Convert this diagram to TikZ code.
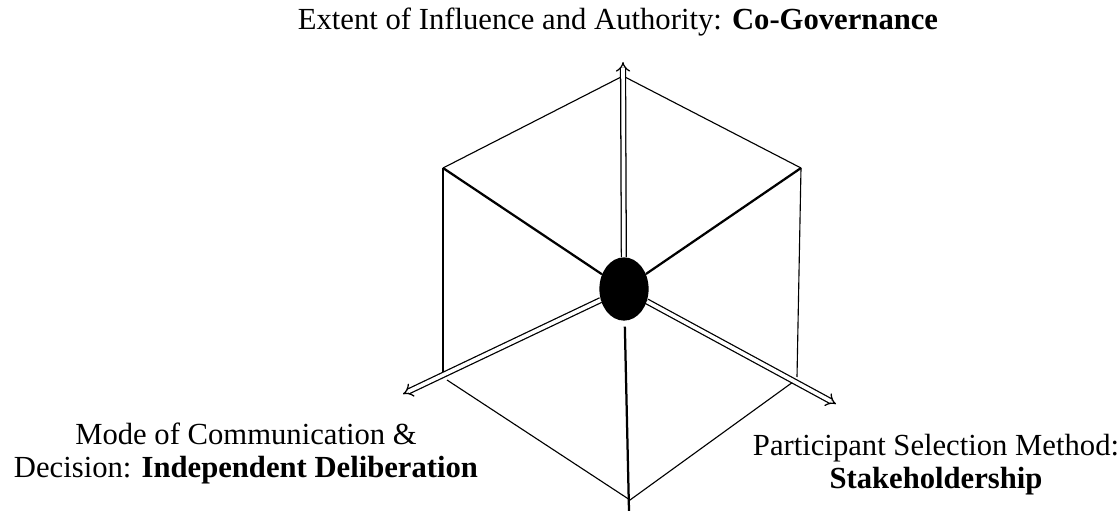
\documentclass[tikz,border=0pt]{standalone}
\usepackage{fontspec}
\setmainfont{Liberation Serif}
\usetikzlibrary{arrows.meta}
\usetikzlibrary{shapes.geometric}
\usetikzlibrary{positioning}
\tikzset{edge/.style = {line width = 0.8pt}}
\tikzset{spoke/.style = {line width = 1.6pt}}
\tikzset{dimarrow/.style = {double, line width = 0.9pt, double distance = 2.6pt,
                            -{Implies[length = 5pt, width = 10pt]}}}
\tikzset{hub/.style = {ellipse, fill, inner sep = 0,
                       minimum width = 35pt, minimum height = 45pt}}
\tikzset{dimlabel/.style = {font = \fontsize{21.8}{23.5}\selectfont, align = center,
                            inner sep = 0}}

\begin{document}
\begin{tikzpicture}[x = 0.025cm, y = -0.025cm]
    \useasboundingbox (0, 0) rectangle (1120, 511);

    \coordinate (t) at (623, 76);
    \coordinate (ul) at (443, 168);
    \coordinate (ur) at (801, 168);
    \coordinate (ulb) at (443, 378);
    \coordinate (urb) at (797, 377);
    \coordinate (bl) at (447, 380);
    \coordinate (b) at (630, 500);
    \coordinate (br) at (793, 382);
    \coordinate (foot) at (629, 511);
    \coordinate (infl) at (623, 62);
    \coordinate (comm) at (403, 394);
    \coordinate (sel) at (836, 404);

    \draw [edge] (ul) -- (t) -- (ur);
    \draw [edge] (ul) -- (ulb);
    \draw [edge] (ur) -- (urb);
    \draw [edge] (bl) -- (b) -- (br);

    \node [hub] (center) at (624, 289) {};

    \draw [dimarrow] (center) -- (infl);
    \draw [dimarrow] (center) -- (comm);
    \draw [dimarrow] (center) -- (sel);

    \draw [spoke] (ul) -- (center);
    \draw [spoke] (ur) -- (center);
    \draw [spoke, shorten < = 4pt] (center) -- (foot);

    \node [dimlabel] (infllabel) at (618, 22)
      {Extent of Influence and Authority: \textbf{Co-Governance}};
    \node [dimlabel] (commlabel) at (246, 453)
      {Mode of Communication \&\\Decision: \textbf{Independent Deliberation}};
    \node [dimlabel] (sellabel) at (936, 465)
      {Participant Selection Method:\\\textbf{Stakeholdership}};
  \end{tikzpicture}
\end{document}
